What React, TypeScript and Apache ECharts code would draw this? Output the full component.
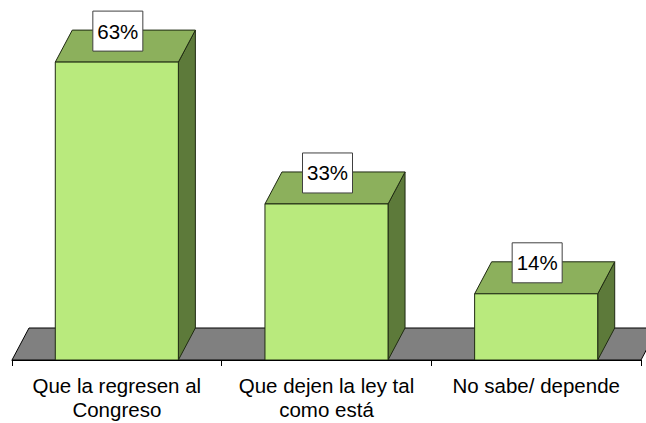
import React, { useEffect, useRef } from "react";
import * as echarts from "echarts";

const categories: string[] = [
  "Que la regresen al\nCongreso",
  "Que dejen la ley tal\ncomo está",
  "No sabe/ depende",
];
const values: number[] = [63, 33, 14];
const valueLabels: string[] = ["63%", "33%", "14%"];

const DX = 17;
const DY = -32;
const FONT = '"Liberation Sans", Arial, sans-serif';

export default function App() {
  const ref = useRef<HTMLDivElement>(null);
  useEffect(() => {
    if (!ref.current) return;
    const chart = echarts.init(ref.current, undefined, { renderer: "svg" });
    const option: any = {
      animation: false,
      backgroundColor: "#ffffff",
      grid: { left: 12, right: 5, top: 29, bottom: 63 },
      xAxis: {
        type: "category",
        data: categories,
        boundaryGap: true,
        axisLine: { show: true, lineStyle: { color: "#000", width: 1 } },
        axisTick: { show: true, length: 6, lineStyle: { color: "#000" } },
        axisLabel: {
          interval: 0,
          color: "#000",
          fontSize: 20.5,
          fontFamily: FONT,
          lineHeight: 24,
          margin: 13,
        },
        splitLine: { show: false },
        z: 5,
      },
      yAxis: { type: "value", min: 0, max: 70, show: false },
      series: [
        {
          type: "custom",
          silent: true,
          z: 1,
          data: [[0, 0]],
          encode: { x: 0, y: 1 },
          renderItem: (params: any, api: any) => {
            const cs = params.coordSys;
            const x0 = cs.x;
            const x1 = cs.x + cs.width;
            const y = cs.y + cs.height;
            return {
              type: "polygon",
              shape: {
                points: [
                  [x0, y],
                  [x1, y],
                  [x1 + DX, y + DY],
                  [x0 + DX, y + DY],
                ],
              },
              style: { fill: "#808080", stroke: "#000", lineWidth: 1 },
            };
          },
        },
        {
          type: "custom",
          silent: true,
          z: 3,
          data: values.map((v, i) => [i, v]),
          encode: { x: 0, y: 1 },
          renderItem: (params: any, api: any) => {
            const idx = api.value(0);
            const v = api.value(1);
            const top = api.coord([idx, v]);
            const bottom = api.coord([idx, 0]);
            const band = api.size([1, 0])[0];
            const w = band * 0.587;
            const xl = top[0] - w / 2;
            const xr = top[0] + w / 2;
            const yt = top[1];
            const yb = bottom[1];
            const stroke = "#1f2a12";
            const lx = top[0] + 1;
            const ly = yt + DY + 1;
            return {
              type: "group",
              children: [
                {
                  type: "polygon",
                  shape: {
                    points: [
                      [xr, yt],
                      [xr + DX, yt + DY],
                      [xr + DX, yb + DY],
                      [xr, yb],
                    ],
                  },
                  style: { fill: "#5D7A3A", stroke, lineWidth: 1 },
                },
                {
                  type: "polygon",
                  shape: {
                    points: [
                      [xl, yt],
                      [xr, yt],
                      [xr + DX, yt + DY],
                      [xl + DX, yt + DY],
                    ],
                  },
                  style: { fill: "#8CB05C", stroke, lineWidth: 1 },
                },
                {
                  type: "rect",
                  shape: { x: xl, y: yt, width: w, height: yb - yt },
                  style: { fill: "#B9EA7D", stroke, lineWidth: 1 },
                },
                {
                  type: "rect",
                  shape: { x: lx - 25, y: ly - 20, width: 50, height: 40 },
                  style: { fill: "#ffffff", stroke: "#404040", lineWidth: 1 },
                },
                {
                  type: "text",
                  x: lx,
                  y: ly,
                  style: {
                    text: valueLabels[idx],
                    fill: "#000",
                    font: `20.5px ${FONT}`,
                    align: "center",
                    verticalAlign: "middle",
                    textAlign: "center",
                    textVerticalAlign: "middle",
                  },
                },
              ],
            };
          },
        },
      ],
    };
    chart.setOption(option);
    return () => chart.dispose();
  }, []);
  return (
    <div
      ref={ref}
      style={{ position: "fixed", left: 0, top: 0, width: 646, height: 423 }}
    />
  );
}
